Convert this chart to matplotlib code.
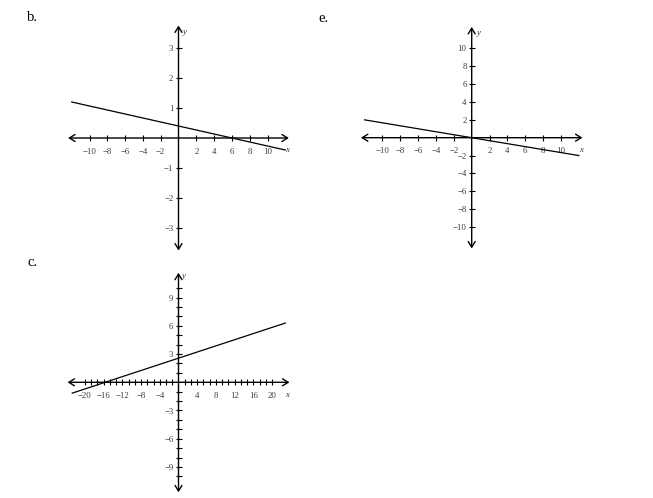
import matplotlib
matplotlib.use("Agg")
import matplotlib.pyplot as plt
import numpy as np

plt.rcParams["font.family"] = ["Liberation Serif", "DejaVu Serif"]

W, H = 653, 498

# panel b: line x + 15y = 6
b_x = [-12, 12]
b_y = [1.2, -0.4]
b_xticks = [-10, -8, -6, -4, -2, 2, 4, 6, 8, 10]
b_yticks = [-3, -2, -1, 1, 2, 3]

# panel e: line y = -x/6
e_x = [-12, 12]
e_y = [2, -2]
e_xticks = [-10, -8, -6, -4, -2, 2, 4, 6, 8, 10]
e_yticks = [-10, -8, -6, -4, -2, 2, 4, 6, 8, 10]

# panel c: line through (-16, 0)
c_x = [-22.7, 22.8]
c_y = [-1.15, 6.3]
c_xlabels = [-20, -16, -12, -8, -4, 4, 8, 12, 16, 20]
c_xminor = [t for t in np.linspace(-20, 20, 31) if abs(t) > 0.1]
c_ylabels = [-9, -6, -3, 3, 6, 9]
c_yminor = [t for t in range(-10, 11) if t != 0]

fig = plt.figure(figsize=(W / 100, H / 100), dpi=100)


def make_axes(ox, oy, sx, sy, xlim, ylim):
    # ox, oy: pixel of origin; sx, sy: pixels per unit
    left = ox + xlim[0] * sx
    top = oy - ylim[1] * sy
    w = (xlim[1] - xlim[0]) * sx
    h = (ylim[1] - ylim[0]) * sy
    ax = fig.add_axes([left / W, 1 - (top + h) / H, w / W, h / H])
    ax.set_xlim(*xlim)
    ax.set_ylim(*ylim)
    ax.patch.set_alpha(0)
    for s in ax.spines.values():
        s.set_visible(False)
    ax.spines["left"].set_position(("data", 0))
    ax.spines["bottom"].set_position(("data", 0))
    ax.xaxis.set_ticks_position("bottom")
    ax.yaxis.set_ticks_position("left")
    ax.tick_params(which="both", direction="inout", length=4.5, width=0.8,
                   labelsize=6.3, labelcolor="#3a3a3a", color="black")
    ax.tick_params(axis="x", which="both", pad=4.6)
    ax.tick_params(axis="y", which="both", pad=1.4)
    return ax


def draw_axes(ax, xa, ya, ydown=None, xoff=(-2, -12), yoff=(6, -6)):
    ydown = ya if ydown is None else ydown
    ap = dict(arrowstyle="<->,head_length=0.4,head_width=0.25",
              lw=1.0, color="black", shrinkA=0, shrinkB=0)
    ax.annotate("", xy=(xa, 0), xytext=(-xa, 0), arrowprops=ap)
    ax.annotate("", xy=(0, ya), xytext=(0, -ydown), arrowprops=ap)
    ax.annotate("x", xy=(xa, 0), xytext=xoff, textcoords="offset pixels",
                fontsize=6.5, style="italic", color="#3a3a3a",
                ha="center", va="center")
    ax.annotate("y", xy=(0, ya), xytext=yoff, textcoords="offset pixels",
                fontsize=6.5, style="italic", color="#3a3a3a",
                ha="center", va="center")


# b
ax = make_axes(178.5, 138, 8.9, 30, (-13, 13), (-4, 4))
ax.set_xticks(b_xticks)
ax.set_yticks(b_yticks)
draw_axes(ax, 12.4, 3.75, xoff=(-2, -12), yoff=(6, -6))
ax.plot(b_x, b_y, color="black", lw=0.9)

# e
ax = make_axes(471.7, 137.7, 8.93, 8.93, (-13, 13), (-13, 13))
ax.set_xticks(e_xticks)
ax.set_yticks(e_yticks)
draw_axes(ax, 12.4, 12.4, xoff=(-1, -12), yoff=(7, -6))
ax.plot(e_x, e_y, color="black", lw=0.9)

# c
ax = make_axes(178.5, 382.3, 4.68, 9.4, (-25, 25), (-12.5, 12.5))
ax.set_xticks(c_xlabels)
ax.set_xticks(c_xminor, minor=True)
ax.set_yticks(c_ylabels)
ax.set_yticks(c_yminor, minor=True)
draw_axes(ax, 23.7, 11.65, ydown=11.7, xoff=(-2, -13), yoff=(5, -3))
ax.plot(c_x, c_y, color="black", lw=0.9)

fig.text(27 / W, 1 - 21 / H, "b.", fontsize=10.5, va="baseline")
fig.text(318 / W, 1 - 22 / H, "e.", fontsize=10.5, va="baseline")
fig.text(27 / W, 1 - 266 / H, "c.", fontsize=10.5, va="baseline")

fig.savefig("out.png", dpi=100)
